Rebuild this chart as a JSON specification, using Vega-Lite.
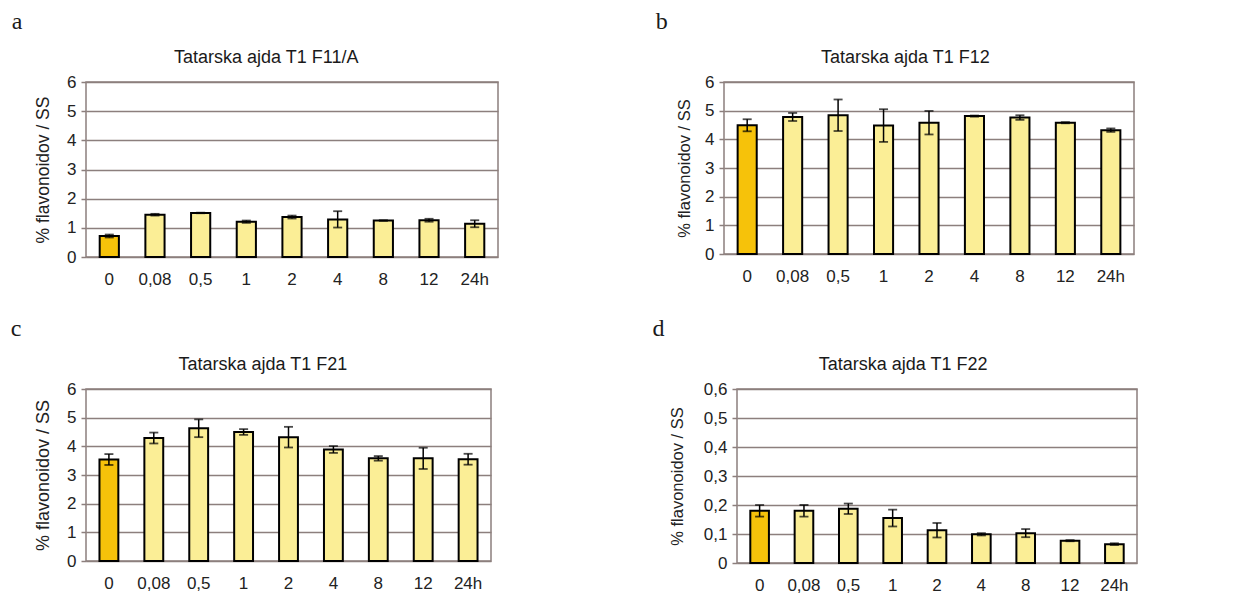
{
  "$schema": "https://vega.github.io/schema/vega-lite/v6.json",
  "background": "white",
  "padding": {"left": 10, "top": 10, "right": 5, "bottom": 0},
  "datasets": {
    "flav": [
      {"panel": "a", "time": "0", "value": 0.72, "lo": 0.67, "hi": 0.77},
      {"panel": "a", "time": "0,08", "value": 1.45, "lo": 1.42, "hi": 1.48},
      {"panel": "a", "time": "0,5", "value": 1.51, "lo": 1.5, "hi": 1.52},
      {"panel": "a", "time": "1", "value": 1.21, "lo": 1.17, "hi": 1.25},
      {"panel": "a", "time": "2", "value": 1.37, "lo": 1.32, "hi": 1.42},
      {"panel": "a", "time": "4", "value": 1.29, "lo": 1.01, "hi": 1.57},
      {"panel": "a", "time": "8", "value": 1.25, "lo": 1.24, "hi": 1.26},
      {"panel": "a", "time": "12", "value": 1.26, "lo": 1.21, "hi": 1.31},
      {"panel": "a", "time": "24h", "value": 1.14, "lo": 1.02, "hi": 1.26},
      {"panel": "b", "time": "0", "value": 4.49, "lo": 4.28, "hi": 4.7},
      {"panel": "b", "time": "0,08", "value": 4.78, "lo": 4.64, "hi": 4.92},
      {"panel": "b", "time": "0,5", "value": 4.84, "lo": 4.29, "hi": 5.39},
      {"panel": "b", "time": "1", "value": 4.48, "lo": 3.91, "hi": 5.05},
      {"panel": "b", "time": "2", "value": 4.58, "lo": 4.17, "hi": 4.99},
      {"panel": "b", "time": "4", "value": 4.81, "lo": 4.79, "hi": 4.83},
      {"panel": "b", "time": "8", "value": 4.76, "lo": 4.68, "hi": 4.84},
      {"panel": "b", "time": "12", "value": 4.58, "lo": 4.56, "hi": 4.6},
      {"panel": "b", "time": "24h", "value": 4.32, "lo": 4.26, "hi": 4.38},
      {"panel": "c", "time": "0", "value": 3.54, "lo": 3.35, "hi": 3.73},
      {"panel": "c", "time": "0,08", "value": 4.29, "lo": 4.1, "hi": 4.48},
      {"panel": "c", "time": "0,5", "value": 4.63, "lo": 4.32, "hi": 4.94},
      {"panel": "c", "time": "1", "value": 4.5, "lo": 4.4, "hi": 4.6},
      {"panel": "c", "time": "2", "value": 4.32, "lo": 3.96, "hi": 4.68},
      {"panel": "c", "time": "4", "value": 3.89, "lo": 3.77, "hi": 4.01},
      {"panel": "c", "time": "8", "value": 3.58, "lo": 3.5, "hi": 3.66},
      {"panel": "c", "time": "12", "value": 3.58, "lo": 3.21, "hi": 3.95},
      {"panel": "c", "time": "24h", "value": 3.55, "lo": 3.36, "hi": 3.74},
      {"panel": "d", "time": "0", "value": 0.18, "lo": 0.16, "hi": 0.2},
      {"panel": "d", "time": "0,08", "value": 0.18, "lo": 0.16, "hi": 0.2},
      {"panel": "d", "time": "0,5", "value": 0.187, "lo": 0.169, "hi": 0.205},
      {"panel": "d", "time": "1", "value": 0.155, "lo": 0.126, "hi": 0.184},
      {"panel": "d", "time": "2", "value": 0.113, "lo": 0.088, "hi": 0.138},
      {"panel": "d", "time": "4", "value": 0.099, "lo": 0.095, "hi": 0.103},
      {"panel": "d", "time": "8", "value": 0.103, "lo": 0.089, "hi": 0.117},
      {"panel": "d", "time": "12", "value": 0.077, "lo": 0.075, "hi": 0.079},
      {"panel": "d", "time": "24h", "value": 0.065, "lo": 0.062, "hi": 0.068}
    ]
  },
  "data": {"name": "flav"},
  "vconcat": [
    {
      "hconcat": [
        {
          "title": {"text": "a", "anchor": "start", "dx": -22, "font": "Liberation Serif", "fontSize": 24, "offset": 14},
          "vconcat": [
            {
              "title": {"text": "Tatarska ajda T1 F11/A"},
              "width": 412, "height": 175,
              "transform": [{"filter": "datum.panel === 'a'"}],
              "encoding": {
                "x": {"field": "time", "type": "nominal", "sort": ["0", "0,08", "0,5", "1", "2", "4", "8", "12", "24h"], "axis": {"title": null}}
              },
              "resolve": {"axis": {"y": "independent"}},
              "layer": [
                {"mark": {"type": "bar", "stroke": "black", "strokeWidth": 2},
                 "encoding": {
                   "y": {"field": "value", "type": "quantitative", "scale": {"domain": [0, 6]}, "axis": {"title": "% flavonoidov / SS", "values": [0, 1, 2, 3, 4, 5, 6], "titleFontSize": 17.5, "titlePadding": 14}},
                   "fill": {"condition": {"test": "datum.time === '0'", "value": "#F6C20A"}, "value": "#FBEE96"}
                 }},
                {"mark": {"type": "rule", "color": "black", "strokeWidth": 1.5},
                 "encoding": {"y": {"field": "lo", "type": "quantitative", "axis": null}, "y2": {"field": "hi"}}},
                {"mark": {"type": "tick", "color": "black", "thickness": 1.8, "size": 9},
                 "encoding": {"y": {"field": "lo", "type": "quantitative", "axis": null}}},
                {"mark": {"type": "tick", "color": "black", "thickness": 1.8, "size": 9},
                 "encoding": {"y": {"field": "hi", "type": "quantitative", "axis": null}}}
              ]
            }
          ]
        },
        {
          "title": {"text": "b", "anchor": "start", "dx": -20, "font": "Liberation Serif", "fontSize": 24, "offset": 14},
          "vconcat": [
            {
              "title": {"text": "Tatarska ajda T1 F12"},
              "width": 410, "height": 172,
              "transform": [{"filter": "datum.panel === 'b'"}],
              "encoding": {
                "x": {"field": "time", "type": "nominal", "sort": ["0", "0,08", "0,5", "1", "2", "4", "8", "12", "24h"], "axis": {"title": null}}
              },
              "resolve": {"axis": {"y": "independent"}},
              "layer": [
                {"mark": {"type": "bar", "stroke": "black", "strokeWidth": 2},
                 "encoding": {
                   "y": {"field": "value", "type": "quantitative", "scale": {"domain": [0, 6]}, "axis": {"title": "% flavonoidov / SS", "values": [0, 1, 2, 3, 4, 5, 6], "titleFontSize": 16.5, "titlePadding": 12}},
                   "fill": {"condition": {"test": "datum.time === '0'", "value": "#F6C20A"}, "value": "#FBEE96"}
                 }},
                {"mark": {"type": "rule", "color": "black", "strokeWidth": 1.5},
                 "encoding": {"y": {"field": "lo", "type": "quantitative", "axis": null}, "y2": {"field": "hi"}}},
                {"mark": {"type": "tick", "color": "black", "thickness": 1.8, "size": 9},
                 "encoding": {"y": {"field": "lo", "type": "quantitative", "axis": null}}},
                {"mark": {"type": "tick", "color": "black", "thickness": 1.8, "size": 9},
                 "encoding": {"y": {"field": "hi", "type": "quantitative", "axis": null}}}
              ]
            }
          ]
        }
      ],
      "spacing": 156
    },
    {
      "hconcat": [
        {
          "title": {"text": "c", "anchor": "start", "dx": -23, "font": "Liberation Serif", "fontSize": 24, "offset": 14},
          "vconcat": [
            {
              "title": {"text": "Tatarska ajda T1 F21"},
              "width": 405, "height": 172,
              "transform": [{"filter": "datum.panel === 'c'"}],
              "encoding": {
                "x": {"field": "time", "type": "nominal", "sort": ["0", "0,08", "0,5", "1", "2", "4", "8", "12", "24h"], "axis": {"title": null}}
              },
              "resolve": {"axis": {"y": "independent"}},
              "layer": [
                {"mark": {"type": "bar", "stroke": "black", "strokeWidth": 2},
                 "encoding": {
                   "y": {"field": "value", "type": "quantitative", "scale": {"domain": [0, 6]}, "axis": {"title": "% flavonoidov / SS", "values": [0, 1, 2, 3, 4, 5, 6], "titleFontSize": 18, "titlePadding": 14}},
                   "fill": {"condition": {"test": "datum.time === '0'", "value": "#F6C20A"}, "value": "#FBEE96"}
                 }},
                {"mark": {"type": "rule", "color": "black", "strokeWidth": 1.5},
                 "encoding": {"y": {"field": "lo", "type": "quantitative", "axis": null}, "y2": {"field": "hi"}}},
                {"mark": {"type": "tick", "color": "black", "thickness": 1.8, "size": 9},
                 "encoding": {"y": {"field": "lo", "type": "quantitative", "axis": null}}},
                {"mark": {"type": "tick", "color": "black", "thickness": 1.8, "size": 9},
                 "encoding": {"y": {"field": "hi", "type": "quantitative", "axis": null}}}
              ]
            }
          ]
        },
        {
          "title": {"text": "d", "anchor": "start", "dx": -16, "font": "Liberation Serif", "fontSize": 24, "offset": 14},
          "vconcat": [
            {
              "title": {"text": "Tatarska ajda T1 F22"},
              "width": 400, "height": 174,
              "transform": [{"filter": "datum.panel === 'd'"}],
              "encoding": {
                "x": {"field": "time", "type": "nominal", "sort": ["0", "0,08", "0,5", "1", "2", "4", "8", "12", "24h"], "axis": {"title": null}}
              },
              "resolve": {"axis": {"y": "independent"}},
              "layer": [
                {"mark": {"type": "bar", "stroke": "black", "strokeWidth": 2},
                 "encoding": {
                   "y": {"field": "value", "type": "quantitative", "scale": {"domain": [0, 0.6]}, "axis": {"title": "% flavonoidov / SS", "values": [0, 0.1, 0.2, 0.3, 0.4, 0.5, 0.6], "labelExpr": "datum.value === 0 ? '0' : replace(format(datum.value, '.1f'), '.', ',')", "titleFontSize": 16.5, "titlePadding": 18}},
                   "fill": {"condition": {"test": "datum.time === '0'", "value": "#F6C20A"}, "value": "#FBEE96"}
                 }},
                {"mark": {"type": "rule", "color": "black", "strokeWidth": 1.5},
                 "encoding": {"y": {"field": "lo", "type": "quantitative", "axis": null}, "y2": {"field": "hi"}}},
                {"mark": {"type": "tick", "color": "black", "thickness": 1.8, "size": 9},
                 "encoding": {"y": {"field": "lo", "type": "quantitative", "axis": null}}},
                {"mark": {"type": "tick", "color": "black", "thickness": 1.8, "size": 9},
                 "encoding": {"y": {"field": "hi", "type": "quantitative", "axis": null}}}
              ]
            }
          ]
        }
      ],
      "spacing": 160
    }
  ],
  "spacing": 29,
  "config": {
    "font": "Liberation Sans",
    "view": {"stroke": "#8C7F7D", "strokeWidth": 1.5},
    "scale": {"bandPaddingInner": 0.58, "bandPaddingOuter": 0.3},
    "title": {"font": "Liberation Sans", "fontSize": 18, "fontWeight": "normal", "color": "#1a1a1a", "anchor": "middle", "frame": "bounds", "offset": 6},
    "axis": {"labelFont": "Liberation Sans", "titleFont": "Liberation Sans", "titleFontWeight": "normal", "titleColor": "#222", "labelColor": "#222", "labelFontSize": 17, "grid": false, "domain": false},
    "axisY": {"grid": true, "gridColor": "#8C7F7D", "gridWidth": 1.5, "gridOpacity": 1, "tickColor": "#8C7F7D", "tickSize": 5, "tickWidth": 1.5, "labelPadding": 5, "labelOverlap": false},
    "axisX": {"ticks": false, "labelAngle": 0, "labelPadding": 14},
    "legend": {"disable": true}
  }
}
